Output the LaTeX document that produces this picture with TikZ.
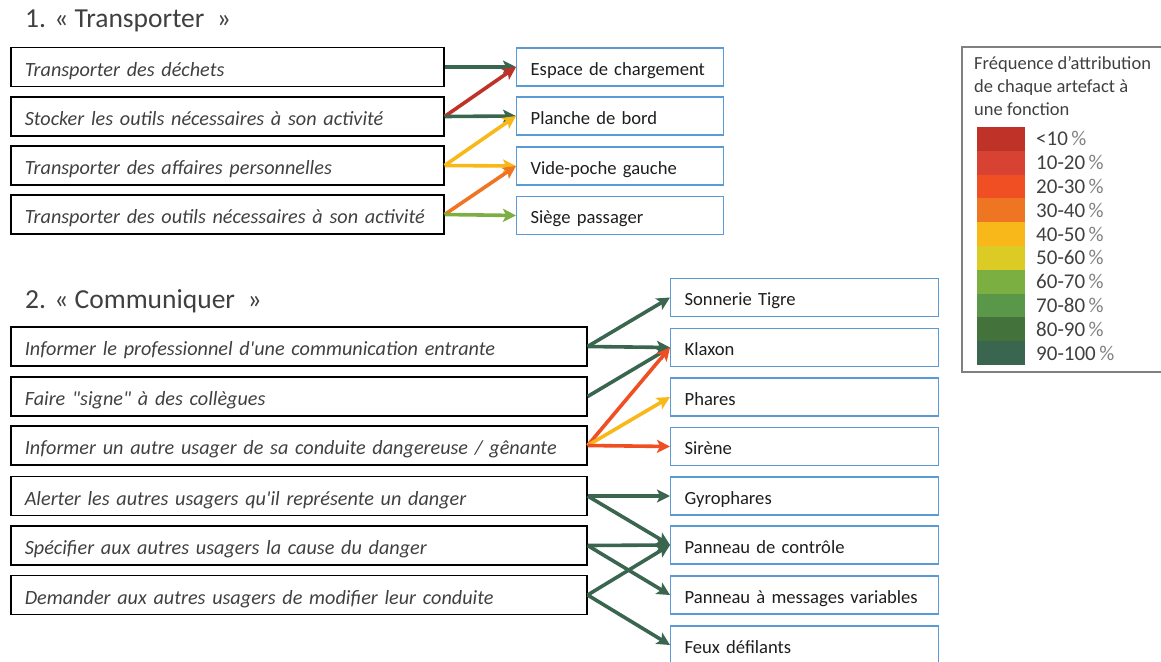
\documentclass[tikz,border=0pt]{standalone}
\usepackage{fontspec}
\setmainfont{Carlito}[Ligatures=TeXOff]
\usepackage{xcolor}
\usetikzlibrary{arrows.meta}

% Couleurs de la légende
\definecolor{c10}{RGB}{190,50,40}
\definecolor{c20}{RGB}{216,66,50}
\definecolor{c30}{RGB}{240,78,35}
\definecolor{c40}{RGB}{238,118,35}
\definecolor{c50}{RGB}{248,184,25}
\definecolor{c60}{RGB}{221,203,37}
\definecolor{c70}{RGB}{124,175,65}
\definecolor{c80}{RGB}{90,151,72}
\definecolor{c90}{RGB}{67,114,58}
\definecolor{c100}{RGB}{58,102,80}
\definecolor{bleubord}{RGB}{91,155,213}
\definecolor{gristexte}{RGB}{64,64,64}
\definecolor{noirtexte}{RGB}{30,30,30}

\begin{document}
\begin{tikzpicture}[x=1pt,y=-1pt,
    fonction/.style={draw=black,line width=1.6pt,anchor=west,minimum height=39pt,inner xsep=14pt,inner ysep=0pt,text height=18pt,text depth=0pt,align=left,text=gristexte,font=\itshape\fontsize{20.2}{24}\selectfont},
    artefact/.style={draw=bleubord,line width=1.3pt,anchor=west,minimum height=38pt,inner xsep=14pt,inner ysep=0pt,text height=16pt,text depth=0pt,align=left,text=noirtexte,font=\fontsize{18.6}{22}\selectfont},
    lien/.style={line width=3.6pt,-{Stealth[length=13pt,width=13pt,inset=3pt]}},
    titre/.style={anchor=west,inner sep=0pt,text=gristexte,font=\fontsize{27.5}{32}\selectfont}]
    \useasboundingbox (0,0) rectangle (1161,661);

    % 1. Transporter
    \node[titre] (titre1) at (25,21) {1. «~Transporter~~»};
    \node[fonction,text width=405pt] (f1) at (10,67) {Transporter des déchets};
    \node[fonction,text width=405pt] (f2) at (10,116.5) {Stocker les outils nécessaires à son activité};
    \node[fonction,text width=405pt] (f3) at (10,165.5) {Transporter des affaires personnelles};
    \node[fonction,text width=405pt] (f4) at (10,214.5) {Transporter des outils nécessaires à son activité};

    \node[artefact,text width=179pt] (a1) at (516,67) {Espace de chargement};
    \node[artefact,text width=179pt] (a2) at (516,116) {Planche de bord};
    \node[artefact,text width=179pt] (a3) at (516,166) {Vide-poche gauche};
    \node[artefact,text width=179pt] (a4) at (516,215.5) {Siège passager};

    \draw[lien,c100] (f1.east) -- (a1.west);
    \draw[lien,c10] (f2.east) -- (a1.west);
    \draw[lien,c100] (f2.east) -- (a2.west);
    \draw[lien,c50] (f3.east) -- (a2.west);
    \draw[lien,c50] (f3.east) -- (a3.west);
    \draw[lien,c40] (f4.east) -- (a3.west);
    \draw[lien,c70] (f4.east) -- (a4.west);

    % 2. Communiquer
    \node[titre] (titre2) at (25,301) {2. «~Communiquer~~»};
    \node[fonction,text width=548pt] (g1) at (10,346.5) {Informer le professionnel d'une communication entrante};
    \node[fonction,text width=548pt] (g2) at (10,396.5) {Faire "signe" à des collègues};
    \node[fonction,text width=548pt] (g3) at (10,445.5) {Informer un autre usager de sa conduite dangereuse / gênante};
    \node[fonction,text width=548pt] (g4) at (10,496) {Alerter les autres usagers qu'il représente un danger};
    \node[fonction,text width=548pt] (g5) at (10,545.5) {Spécifier aux autres usagers la cause du danger};
    \node[fonction,text width=548pt] (g6) at (10,595) {Demander aux autres usagers de modifier leur conduite};

    \node[artefact,text width=240pt] (b1) at (670,297.5) {Sonnerie Tigre};
    \node[artefact,text width=240pt] (b2) at (670,347.5) {Klaxon};
    \node[artefact,text width=240pt] (b3) at (670,397) {Phares};
    \node[artefact,text width=240pt] (b4) at (670,446.5) {Sirène};
    \node[artefact,text width=240pt] (b5) at (670,496) {Gyrophares};
    \node[artefact,text width=240pt] (b6) at (670,545) {Panneau de contrôle};
    \node[artefact,text width=240pt] (b7) at (670,595) {Panneau à messages variables};
    \node[artefact,text width=240pt] (b8) at (670,645) {Feux défilants};

    \draw[lien,c100] (g1.east) -- (b1.west);
    \draw[lien,c100] (g1.east) -- (b2.west);
    \draw[lien,c100] (g2.east) -- (b2.west);
    \draw[lien,c30] (g3.east) -- (b2.west);
    \draw[lien,c50] (g3.east) -- (b3.west);
    \draw[lien,c30] (g3.east) -- (b4.west);
    \draw[lien,c100] (g4.east) -- (b5.west);
    \draw[lien,c100] (g4.east) -- (b6.west);
    \draw[lien,c100] (g5.east) -- (b6.west);
    \draw[lien,c100] (g5.east) -- (b7.west);
    \draw[lien,c100] (g6.east) -- (b6.west);
    \draw[lien,c100] (g6.east) -- (b8.west);

    % Légende
    \draw[gray,line width=1.2pt] (962,47) rectangle (1163,372);
    \node[anchor=north west,align=left,inner sep=0pt,text=gristexte,font=\fontsize{18.5}{23}\selectfont] (legtitre) at (974,56)
        {Fréquence d’attribution\\de chaque artefact à\\une fonction};
    \foreach \c/\lab [count=\i from 0] in {c10/{<10},c20/{10-20},c30/{20-30},c40/{30-40},c50/{40-50},c60/{50-60},c70/{60-70},c80/{70-80},c90/{80-90},c100/{90-100}} {
        \fill[\c] (977,{127+23.8*\i}) rectangle (1025,{127+23.8*(\i+1)});
        \node[anchor=west,inner sep=0pt,text=gristexte,font=\fontsize{21}{24}\selectfont] (leg\i) at (1036,{127+23.8*(\i+0.5)}) {\lab\,\textcolor{gray}{\%}};
    }
\end{tikzpicture}
\end{document}
